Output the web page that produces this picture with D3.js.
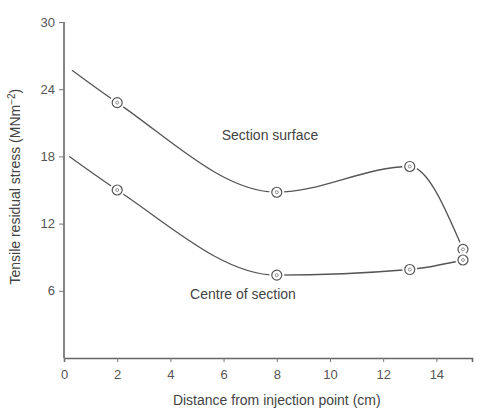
<!DOCTYPE html>
<html>
<head>
<meta charset="utf-8">
<script src="https://cdn.jsdelivr.net/npm/d3@7"></script>
<style>
  body { margin: 0; background: #fff; }
  text { font-family: "Liberation Sans", Arial, sans-serif; fill: #444; }
</style>
</head>
<body>
<svg id="chart" width="480" height="414"></svg>
<script>
// values
var surfaceX = [0.3, 2, 8, 13, 15];
var surfaceY = [25.7, 22.8, 14.8, 17.1, 9.7];
var centreX = [0.2, 2, 8, 13, 15];
var centreY = [18.0, 15.0, 7.4, 7.9, 8.75];
var xTicks = [0, 2, 4, 6, 8, 10, 12, 14];
var yTicks = [6, 12, 18, 24, 30];

var margin = {top: 22, right: 8, bottom: 56, left: 64};
var width = 480 - margin.left - margin.right;
var height = 414 - margin.top - margin.bottom;

var svg = d3.select("#chart")
  .append("g")
    .attr("transform", "translate(" + margin.left + "," + margin.top + ")");

var x = d3.scaleLinear().domain([0, 15.34]).range([0, width]);
var y = d3.scaleLinear().domain([0, 30]).range([height, 0]);

var line = d3.line()
    .x(function(d) { return x(d[0]); })
    .y(function(d) { return y(d[1]); })
    .curve(d3.curveMonotoneX);

var series = [
  {name: "Section surface", pts: d3.zip(surfaceX, surfaceY)},
  {name: "Centre of section", pts: d3.zip(centreX, centreY)}
];

// axes
var xAxis = svg.append("g")
    .attr("transform", "translate(0," + height + ")")
    .call(d3.axisBottom(x).tickValues(xTicks).tickSize(4).tickPadding(8));
var yAxis = svg.append("g")
    .call(d3.axisLeft(y).tickValues(yTicks).tickSize(5).tickPadding(4));

[xAxis, yAxis].forEach(function(a) {
  a.select(".domain").attr("stroke", "#666").attr("stroke-width", 1.6);
  a.selectAll(".tick line").attr("stroke", "#777");
  a.selectAll(".tick text")
      .style("font-size", "13px")
      .style("fill", "#555");
});
yAxis.select(".domain").attr("d", "M0," + y(30) + "H0V" + height);
yAxis.selectAll(".tick line").attr("x1", 0).attr("x2", -5);

// curves
svg.selectAll("path.curve")
  .data(series)
  .enter().append("path")
    .attr("class", "curve")
    .attr("fill", "none")
    .attr("stroke", "#555")
    .attr("stroke-width", 1.3)
    .attr("d", function(d) { return line(d.pts); });

// markers (first point is only the curve start)
series.forEach(function(s) {
  var g = svg.append("g");
  var pts = s.pts.slice(1);
  g.selectAll("circle.halo")
    .data(pts)
    .enter().append("circle")
      .attr("cx", function(d) { return x(d[0]); })
      .attr("cy", function(d) { return y(d[1]); })
      .attr("r", 7.5)
      .attr("fill", "#fff");
  g.selectAll("circle.mark")
    .data(pts)
    .enter().append("circle")
      .attr("cx", function(d) { return x(d[0]); })
      .attr("cy", function(d) { return y(d[1]); })
      .attr("r", 5)
      .attr("fill", "#fff")
      .attr("stroke", "#555")
      .attr("stroke-width", 1.2);
  g.selectAll("circle.dot")
    .data(pts)
    .enter().append("circle")
      .attr("cx", function(d) { return x(d[0]); })
      .attr("cy", function(d) { return y(d[1]); })
      .attr("r", 1.5)
      .attr("fill", "none")
      .attr("stroke", "#777")
      .attr("stroke-width", 0.8);
});

// series labels
svg.append("text")
    .attr("x", x(5.93)).attr("y", y(19.5))
    .style("font-size", "14px")
    .text("Section surface");
svg.append("text")
    .attr("x", x(4.74)).attr("y", y(5.3))
    .style("font-size", "14px")
    .text("Centre of section");

// axis titles
svg.append("text")
    .attr("x", x(8.0)).attr("y", height + 47)
    .attr("text-anchor", "middle")
    .style("font-size", "14px")
    .text("Distance from injection point (cm)");

var yt = svg.append("text")
    .attr("transform", "translate(-44," + y(15.3) + ") rotate(-90)")
    .attr("text-anchor", "middle")
    .style("font-size", "14px");
yt.append("tspan").text("Tensile residual stress (MNm");
yt.append("tspan").attr("dy", -5).style("font-size", "10px").text("\u22122");
yt.append("tspan").attr("dy", 5).text(")");
</script>
</body>
</html>
